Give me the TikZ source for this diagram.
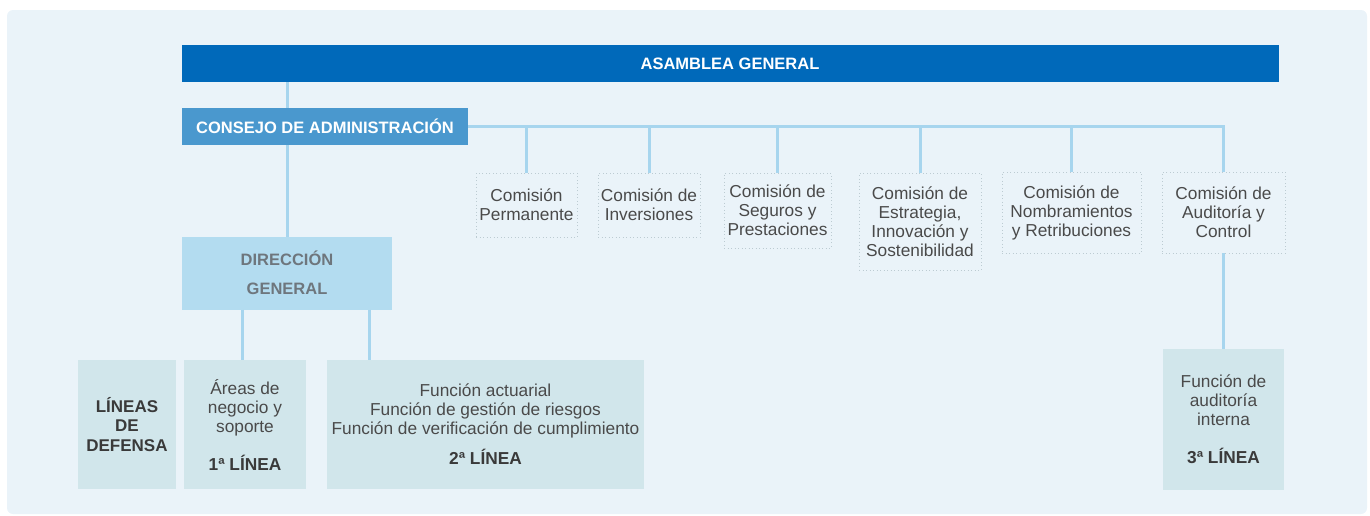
\documentclass[tikz,border=0pt]{standalone}
\usepackage{fontspec}
\setmainfont{Liberation Sans}
\usetikzlibrary{positioning}

\definecolor{fondo}{HTML}{EAF3F9}
\definecolor{azulosc}{HTML}{0069BA}
\definecolor{azulmed}{HTML}{4A98CE}
\definecolor{azulcla}{HTML}{B3DCF0}
\definecolor{conector}{HTML}{A7D5EE}
\definecolor{verdoso}{HTML}{D1E6EB}
\definecolor{punteado}{HTML}{BCCBD2}
\definecolor{texto}{HTML}{4A4A4A}
\definecolor{textob}{HTML}{3A3A3A}
\definecolor{textodg}{HTML}{6E767D}

\begin{document}
\begin{tikzpicture}[x=1pt, y=-1pt]
\tikzset{ inner sep=0pt, outer sep=0pt,
  cab/.style={text=white, font=\fontsize{16.5}{19}\selectfont\bfseries},
  com/.style={draw=punteado, line width=1pt, dash pattern=on 1pt off 2.5pt,
              text=texto, align=center, font=\fontsize{17.3}{19}\selectfont},
  linbox/.style={fill=verdoso, text=texto, align=center, font=\fontsize{17.3}{19}\selectfont},
  con/.style={draw=conector, line width=3pt},
}

\useasboundingbox (0,0) rectangle (1370,515);
\fill [fondo, rounded corners=6pt] (7,10) rectangle (1367,514);

% organos de gobierno
\node [cab, fill=azulosc, minimum width=1097pt, minimum height=37pt] (AG) at (730,63.5) {ASAMBLEA GENERAL};
\node [cab, fill=azulmed, minimum width=286pt, minimum height=37pt] (CA) at (325,126.5) {CONSEJO DE ADMINISTRACIÓN};
\node [fill=azulcla, text=textodg, align=center, font=\fontsize{16.5}{19}\selectfont\bfseries,
       minimum width=210pt, minimum height=73pt] (DG) at (287,273) {DIRECCIÓN\\[10pt]GENERAL};

% comisiones
\node [com, minimum width=101pt, minimum height=64pt] (CP) at (526.5,205)   {Comisión\\Permanente};
\node [com, minimum width=102pt, minimum height=64pt] (CI) at (649,205)     {Comisión de\\Inversiones};
\node [com, minimum width=107pt, minimum height=75pt] (CS) at (777.5,210.5) {Comisión de\\Seguros y\\Prestaciones};
\node [com, minimum width=122pt, minimum height=97pt] (CE) at (920,221.5)   {Comisión de\\Estrategia,\\Innovación y\\Sostenibilidad};
\node [com, minimum width=139pt, minimum height=81pt] (CN) at (1071.5,212.5) {Comisión de\\Nombramientos\\y Retribuciones};
\node [com, minimum width=123pt, minimum height=81pt] (CAC) at (1223.5,212.5) {Comisión de\\Auditoría y\\Control};

% lineas de defensa
\node [linbox, text=textob, font=\fontsize{17}{19.5}\selectfont\bfseries,
       minimum width=98pt, minimum height=129pt] (LD) at (127,424.5) {LÍNEAS\\DE\\DEFENSA};
\node [linbox, minimum width=122pt, minimum height=129pt] (AN) at (245,424.5)
      {Áreas de\\negocio y\\soporte\\[19pt]{\bfseries\color{textob}1ª LÍNEA}};
\node [linbox, minimum width=317pt, minimum height=129pt] (FN) at (485.5,424.5)
      {Función actuarial\\Función de gestión de riesgos\\Función de verificación de cumplimiento\\[11pt]{\bfseries\color{textob}2ª LÍNEA}};
\node [linbox, minimum width=121pt, minimum height=141pt] (FI) at (1223.5,419.5)
      {Función de\\auditoría\\interna\\[19pt]{\bfseries\color{textob}3ª LÍNEA}};

% conectores
\draw [con] (AG.south -| DG.north) -- (CA.north -| DG.north);
\draw [con] (CA.south -| DG.north) -- (DG.north);
\draw [con] (CA.east) -| (CAC.north);
\foreach \n in {CP,CI,CS,CE,CN}
  \draw [con] (\n.north) -- (\n.north |- CA.east);
\draw [con] ([xshift=-45pt]DG.south) -- ([xshift=-45pt]DG.south |- AN.north);
\draw [con] ([xshift=82pt]DG.south) -- ([xshift=82pt]DG.south |- FN.north);
\draw [con] (CAC.south) -- (FI.north);

\end{tikzpicture}
\end{document}
